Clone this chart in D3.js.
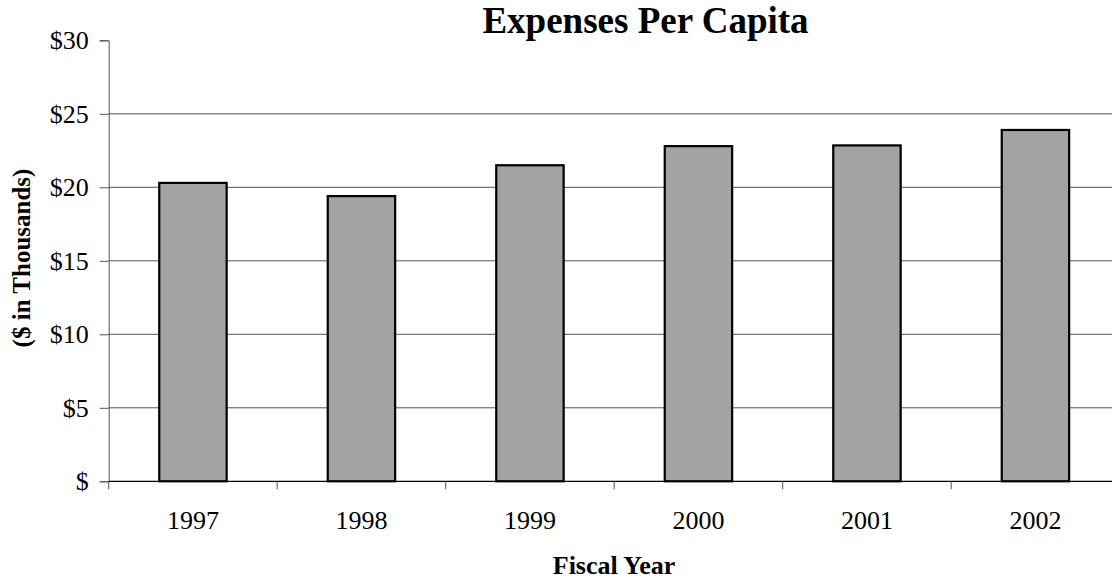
<!DOCTYPE html>
<html>
<head>
<meta charset="utf-8">
<script src="https://cdn.jsdelivr.net/npm/d3@7"></script>
<style>
  html, body { margin: 0; padding: 0; background: #fff; }
  svg { display: block; font-family: "Liberation Serif", "Times New Roman", serif; }
</style>
</head>
<body>
<svg id="chart" width="1112" height="580"></svg>
<script>
// Expenses per capita by fiscal year ($ in thousands)
const years = ["1997", "1998", "1999", "2000", "2001", "2002"];
const expenses = [20.3, 19.4, 21.5, 22.8, 22.85, 23.9];
const yTicks = [0, 5, 10, 15, 20, 25, 30];
const yTickLabels = ["$", "$5", "$10", "$15", "$20", "$25", "$30"];

const svg = d3.select("#chart");
const plot = { left: 108.7, right: 1119.7, top: 40.3, bottom: 481.3 };

const x = d3.scaleBand()
  .domain(years)
  .range([plot.left, plot.right])
  .paddingInner(0.6)
  .paddingOuter(0.3);

const y = d3.scaleLinear()
  .domain([0, 30])
  .range([plot.bottom, plot.top]);

// horizontal gridlines
svg.append("g")
  .selectAll("line")
  .data(yTicks.filter(d => d > 0 && d < 30))
  .join("line")
  .attr("x1", plot.left)
  .attr("x2", plot.right)
  .attr("y1", d => y(d))
  .attr("y2", d => y(d))
  .attr("stroke", "#555")
  .attr("stroke-width", 1);

// y axis
const yAxis = d3.axisLeft(y)
  .tickValues(yTicks)
  .tickSize(9)
  .tickPadding(11)
  .tickFormat((d, i) => yTickLabels[i]);

const gy = svg.append("g")
  .attr("transform", `translate(${plot.left},0)`)
  .call(yAxis);
gy.select(".domain").attr("stroke", "#555");
gy.selectAll(".tick line").attr("stroke", "#555");
gy.selectAll(".tick text")
  .attr("font-family", "Liberation Serif")
  .attr("font-size", 26)
  .attr("fill", "#000");

// bars
svg.append("g")
  .selectAll("rect")
  .data(years.map((yr, i) => ({ yr, v: expenses[i] })))
  .join("rect")
  .attr("x", d => x(d.yr))
  .attr("y", d => y(d.v))
  .attr("width", x.bandwidth())
  .attr("height", d => y(0) - y(d.v))
  .attr("fill", "#a3a3a3")
  .attr("stroke", "#000")
  .attr("stroke-width", 2.2);

// x axis with category boundary ticks
const xAxisG = svg.append("g");
xAxisG.append("line")
  .attr("x1", plot.left)
  .attr("x2", plot.right)
  .attr("y1", y(0))
  .attr("y2", y(0))
  .attr("stroke", "#000")
  .attr("stroke-width", 1.2);

const step = x.step();
const boundaries = d3.range(years.length + 1).map(i => x(years[0]) - x.paddingOuter() * step + i * step);
xAxisG.selectAll("line.tick")
  .data(boundaries)
  .join("line")
  .attr("class", "tick")
  .attr("x1", d => d)
  .attr("x2", d => d)
  .attr("y1", y(0))
  .attr("y2", y(0) + 8)
  .attr("stroke", "#555")
  .attr("stroke-width", 1);

xAxisG.selectAll("text")
  .data(years)
  .join("text")
  .attr("x", d => x(d) + x.bandwidth() / 2)
  .attr("y", 529)
  .attr("text-anchor", "middle")
  .attr("font-size", 26)
  .attr("fill", "#000")
  .text(d => d);

// title
svg.append("text")
  .attr("x", 645.5)
  .attr("y", 33)
  .attr("text-anchor", "middle")
  .attr("font-size", 37)
  .attr("font-weight", "bold")
  .text("Expenses Per Capita");

// axis titles
svg.append("text")
  .attr("x", 614)
  .attr("y", 574)
  .attr("text-anchor", "middle")
  .attr("font-size", 26)
  .attr("font-weight", "bold")
  .text("Fiscal Year");

svg.append("text")
  .attr("transform", "translate(30,258) rotate(-90)")
  .attr("text-anchor", "middle")
  .attr("font-size", 25)
  .attr("font-weight", "bold")
  .text("($ in Thousands)");
</script>
</body>
</html>
